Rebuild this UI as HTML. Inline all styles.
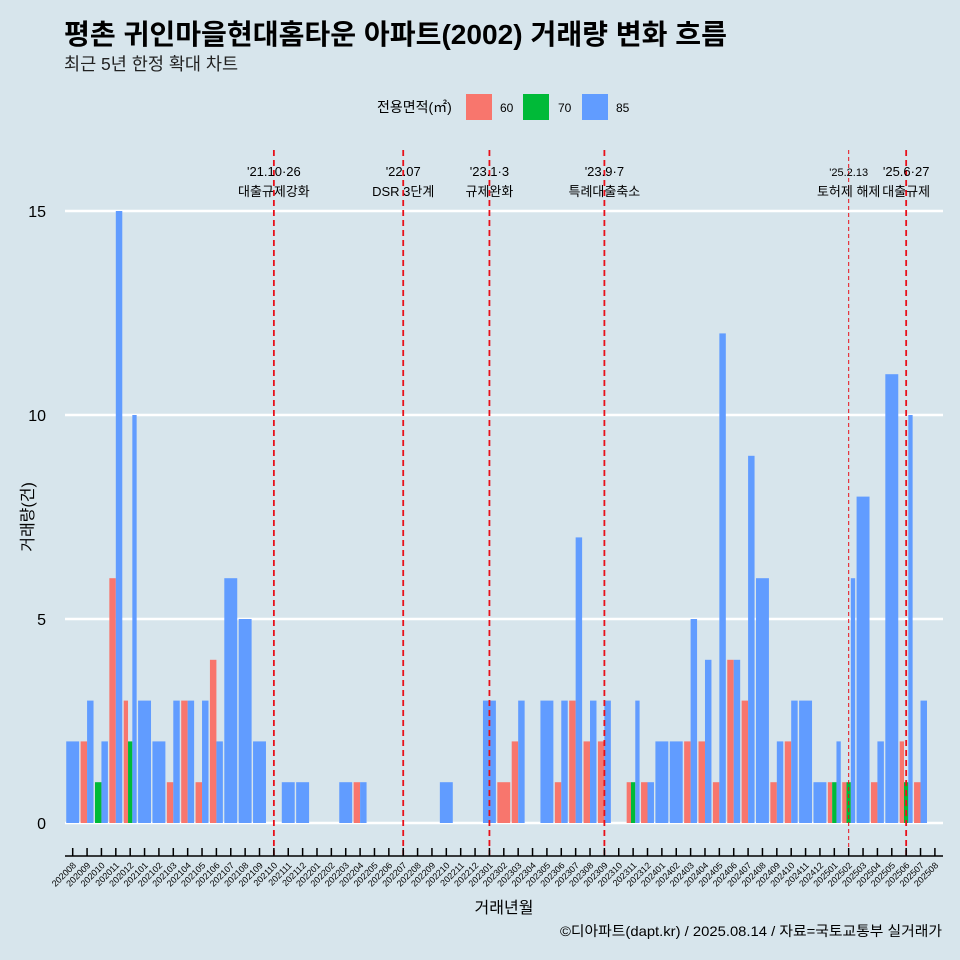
<!DOCTYPE html>
<html><head><meta charset="utf-8"><style>
body{margin:0;background:#d7e5ec;overflow:hidden;}
svg{display:block;}
svg text{font-family:"Liberation Sans","Noto Sans CJK KR",sans-serif;}
</style></head><body>
<svg width="960" height="960" xmlns="http://www.w3.org/2000/svg">
<rect width="960" height="960" fill="#d7e5ec"/>
<text x="64" y="44" font-size="28" font-weight="bold" fill="#000" textLength="663" lengthAdjust="spacingAndGlyphs">평촌 귀인마을현대홈타운 아파트(2002) 거래량 변화 흐름</text>
<text x="64" y="70" font-size="17.5" fill="#222">최근 5년 한정 확대 차트</text>
<g>
<text x="377" y="112" font-size="14">전용면적(㎡)</text>
<rect x="466" y="94" width="26" height="26" fill="#f8766d"/>
<text x="500" y="112" font-size="12">60</text>
<rect x="523" y="94" width="26" height="26" fill="#00ba38"/>
<text x="558" y="112" font-size="12">70</text>
<rect x="582" y="94" width="26" height="26" fill="#619cff"/>
<text x="616" y="112" font-size="12">85</text>
</g>
<g id="grid"></g><g id="bars"></g><g id="events"></g><g id="axes"></g>
<text transform="translate(33,517) rotate(-90)" text-anchor="middle" font-size="16">거래량(건)</text>
<text x="504" y="913" text-anchor="middle" font-size="16">거래년월</text>
<text x="942" y="936" text-anchor="end" font-size="14" textLength="382" lengthAdjust="spacingAndGlyphs">©디아파트(dapt.kr) / 2025.08.14 / 자료=국토교통부 실거래가</text>
</svg>
<script>
const months=["202008","202009","202010","202011","202012","202101","202102","202103","202104","202105","202106","202107","202108","202109","202110","202111","202112","202201","202202","202203","202204","202205","202206","202207","202208","202209","202210","202211","202212","202301","202302","202303","202304","202305","202306","202307","202308","202309","202310","202311","202312","202401","202402","202403","202404","202405","202406","202407","202408","202409","202410","202411","202412","202501","202502","202503","202504","202505","202506","202507","202508"];
const s60=[0,2,0,6,3,0,0,1,3,1,4,0,0,0,0,0,0,0,0,0,1,0,0,0,0,0,0,0,0,0,1,2,0,0,1,3,2,2,0,1,1,0,0,2,2,1,4,3,0,1,2,0,0,1,1,0,1,0,2,1,0];
const s70=[0,0,1,0,2,0,0,0,0,0,0,0,0,0,0,0,0,0,0,0,0,0,0,0,0,0,0,0,0,0,0,0,0,0,0,0,0,0,0,1,0,0,0,0,0,0,0,0,0,0,0,0,0,1,1,0,0,0,1,0,0];
const s85=[2,3,2,15,10,3,2,3,3,3,2,6,5,2,0,1,1,0,0,1,1,0,0,0,0,0,1,0,0,3,0,3,0,3,3,7,3,3,0,3,1,2,2,5,4,12,4,9,6,2,3,3,1,2,6,8,2,11,10,3,0];
const yTicks=[0,5,10,15];
const eventMonths=["202110","202207","202301","202309","202502","202506"];
const eventLine1=["'21.10·26","'22.07","'23.1·3","'23.9·7","'25.2.13","'25.6·27"];
const eventLine2=["대출규제강화","DSR 3단계","규제완화","특례대출축소","토허제 해제","대출규제"];
const NS="http://www.w3.org/2000/svg";
const x0=72.7,step=14.37,y0=823,ppu=40.8;
const X=i=>x0+i*step, Y=v=>y0-v*ppu;
function mk(p,t,a){const e=document.createElementNS(NS,t);for(const k in a)e.setAttribute(k,a[k]);p.appendChild(e);return e;}
const grid=document.getElementById('grid'),bars=document.getElementById('bars'),ev=document.getElementById('events'),ax=document.getElementById('axes');
yTicks.forEach(t=>{
 const l=mk(grid,'line',{x1:65,x2:943,y1:Y(t),y2:Y(t),stroke:'#fff','stroke-width':2.6});
 
 
 const tx=mk(ax,'text',{x:46,y:Y(t)+6,'text-anchor':'end','font-size':16});
 
 
 tx.textContent=t;
});
const series=[[s60,'#f8766d','60'],[s70,'#00ba38','70'],[s85,'#619cff','85']];
const W=step*0.9;
months.forEach((m,i)=>{
 const present=series.filter(s=>s[0][i]>0);
 const w=W/Math.max(present.length,1);
 present.forEach((s,j)=>{
  const v=s[0][i];
  const r=mk(bars,'rect',{x:X(i)-W/2+j*w,y:Y(v),width:w,height:v*ppu,fill:s[1]});
  
  
 });
 const tk=mk(ax,'line',{x1:X(i),x2:X(i),y1:848,y2:856,stroke:'#000','stroke-width':1.5});
 
 
 const tl=mk(ax,'text',{x:X(i)+4,y:866,'text-anchor':'end','font-size':9,transform:`rotate(-45 ${X(i)+4} 866)`});
 
 
 tl.textContent=m;
});
const axl=mk(ax,'line',{x1:65,x2:943,y1:856,y2:856,stroke:'#000','stroke-width':1.5});


eventMonths.forEach((m,k)=>{
 const i=months.indexOf(m),x=X(i),thin=(m==="202502");
 const l=mk(ev,'line',{x1:x,x2:x,y1:150,y2:855,stroke:'#e8101a','stroke-width':thin?1:1.8,'stroke-dasharray':thin?'4,3':'6,4'});
 
 
 const fs=thin?11:13;
 const t1=mk(ev,'text',{x:x,y:176,'text-anchor':'middle','font-size':fs});
 
 
 t1.textContent=eventLine1[k];
 const t2=mk(ev,'text',{x:x,y:196,'text-anchor':'middle','font-size':13});
 
 
 t2.textContent=eventLine2[k];
});
</script>
</body></html>
